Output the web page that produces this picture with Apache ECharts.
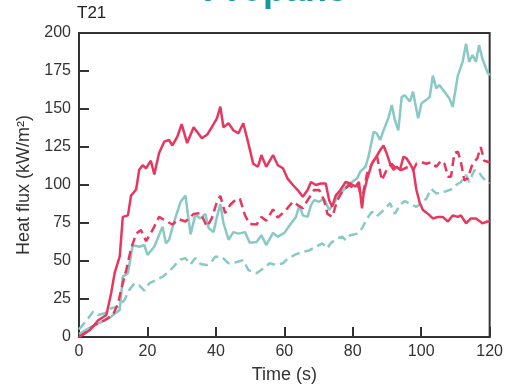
<!DOCTYPE html>
<html>
<head>
<meta charset="utf-8">
<script src="https://cdn.jsdelivr.net/npm/echarts@6/dist/echarts.min.js"></script>
<style>
  html, body { margin: 0; padding: 0; background: #fff; }
  #main { width: 506px; height: 389px; }
</style>
</head>
<body>
<div id="main"></div>
<script>
var xTicks = [0, 20, 40, 60, 80, 100, 120];
var yTicks = [0, 25, 50, 75, 100, 125, 150, 175, 200];

// red solid
var redSolidT = [0, 1.5, 3.2, 5.6, 8, 9.4, 10.4, 11.9, 12.8, 14.3, 15.2, 16.7, 17.6, 18.6, 19.6, 21, 22, 23.4, 24.9, 26.3, 27.3, 28.7, 30, 31.6, 33.5, 35.9, 37.4, 38.8, 40.3, 41.3, 42.2, 43.7, 45.1, 46.6, 48, 49.5, 50.9, 52.3, 53.3, 54.7, 56.7, 58.1, 59.6, 61, 62.5, 63.9, 65.4, 66.8, 67.8, 69.2, 70.6, 72.1, 73.1, 74, 75, 76.4, 77.9, 79.3, 80.8, 81.8, 82.7, 83.2, 84.2, 85.6, 87, 88, 89, 89.9, 90.9, 91.9, 92.8, 93.8, 94.8, 95.7, 96.7, 97.7, 98.6, 99.6, 100.5, 102, 103.4, 104.9, 106.3, 107.8, 109.2, 110.7, 111.6, 113.1, 114.5, 116, 117.9, 119.3, 120];
var redSolidQ = [0, 2, 4.6, 11, 14.5, 29, 42, 53, 79, 80, 93, 97, 110, 113, 111, 116, 107, 121, 128.5, 129.6, 126, 131.6, 140, 127.6, 138, 130.7, 133, 138, 143.8, 151.5, 138, 140.6, 136, 134, 140.6, 127.4, 114, 112, 119.7, 112, 119.7, 113, 111, 104, 100, 96.7, 92.3, 96.7, 102, 100, 101, 101, 90, 85.7, 93, 96.7, 102, 101, 99, 102, 84.7, 94.7, 104, 114, 119, 123, 126, 120.8, 114, 110, 112, 110, 118.6, 117.6, 114, 110, 96.7, 88, 83.6, 81, 78, 79, 79, 76, 80, 79, 80, 74.8, 78, 78, 74.8, 76, 76];

// red dashed
var redDashT = [0, 1.7, 4.6, 7.5, 9.9, 11.4, 12.3, 13.8, 15.2, 16.7, 18.1, 19.6, 21.5, 23.4, 24.9, 27.3, 29.2, 31.1, 33.5, 35.5, 37.4, 38.8, 40.3, 41.3, 42.7, 44.2, 45.6, 47, 48.5, 49.9, 51.9, 53.3, 54.7, 56.7, 58.1, 60.5, 62.5, 63.9, 65.4, 66.8, 67.8, 68.7, 70.2, 71.6, 72.6, 74, 75.5, 76.9, 78.9, 80.3, 81.8, 82.7, 83.2, 84.2, 85.6, 87, 88, 88.5, 89.9, 91.4, 92.8, 94.3, 96.2, 97.7, 98.6, 100.1, 101.5, 102.9, 104.4, 105.8, 106.8, 107.8, 108.7, 109.7, 110.7, 111.6, 112.6, 113.6, 115, 116.4, 117.4, 118.4, 120];
var redDashQ = [0, 2.6, 7.9, 11, 14.5, 22, 31, 44, 58, 68, 70.4, 63, 70.4, 79, 77, 74, 77.5, 76, 81, 81.5, 72.6, 78, 89, 92.8, 81.5, 87, 90, 91, 80, 74.3, 74, 79, 76.5, 84, 78.5, 83.6, 89, 86.8, 84.7, 90, 93.4, 96.7, 96.7, 90, 81, 79, 90, 95.6, 100, 97.8, 99, 88, 96.7, 107.7, 114, 119.7, 108.8, 103, 110, 114, 110, 110, 112, 110, 114, 115, 114, 115, 112, 116, 114, 105.5, 105.5, 121, 122, 115, 103, 104.4, 114, 117.6, 125, 116, 115];

// teal solid
var tealSolidT = [0, 3.7, 6.6, 9.4, 11.9, 12.8, 14.3, 15.7, 17.6, 19.1, 20, 22, 24.4, 25.4, 26.3, 27.8, 29.7, 31.1, 32.6, 34, 35.5, 36.9, 37.9, 39.3, 40.3, 41.3, 42.2, 43.7, 45.1, 46.6, 48.5, 49.9, 51.9, 53.3, 54.7, 56.7, 58.1, 60, 62, 63.4, 64.4, 65.4, 66.8, 67.8, 68.7, 70.2, 71.6, 73.1, 74.5, 76, 77.4, 78.4, 79.8, 81.3, 82.2, 83.7, 84.6, 86.1, 87, 88, 89, 90.4, 91.4, 92.3, 93.3, 94.3, 95.2, 96.7, 97.6, 99.1, 100.1, 101.5, 102.5, 103.4, 104.4, 105.3, 106.8, 108.2, 109.2, 110.7, 112.1, 113.1, 114, 115, 116, 116.9, 117.9, 119.3, 120];
var tealSolidQ = [2, 6.8, 10, 13.4, 17.8, 39.7, 42, 60.5, 59.4, 60.5, 54, 59.4, 72.6, 61.6, 63.8, 75.9, 89, 93, 67.5, 80.5, 78, 81, 71.5, 69, 79, 87.5, 75, 64, 69, 68, 69, 62, 62.5, 67, 60.5, 68.5, 66, 68.5, 74.8, 79, 86.8, 80, 79, 86.8, 90, 89, 91, 83.6, 88, 94.5, 96.7, 100, 102, 104.4, 108.8, 112, 118.6, 135, 134, 129.6, 136, 144, 152.6, 142.8, 136, 158, 159, 154.8, 161.4, 143.9, 153.8, 156, 158, 172, 163.6, 165.8, 161.4, 157, 151.5, 172, 181, 193, 181, 185.5, 181, 192, 183, 174.5, 172];

// teal dashed
var tealDashT = [0, 2.7, 4.1, 5.6, 7.5, 9.4, 11.4, 13.3, 14.7, 16.2, 17.6, 19.1, 20.5, 22.5, 24.4, 26.3, 28.3, 29.7, 31.1, 32.6, 34, 35.5, 37.4, 38.4, 39.8, 41.7, 43.7, 45.6, 48, 49.5, 51.9, 53.8, 55.7, 57.6, 59.6, 60.5, 63, 65.4, 67.3, 69.2, 71.1, 72.6, 73.5, 75.5, 76.9, 77.9, 79.3, 81.3, 82.7, 84.2, 85.6, 87, 88.5, 90.9, 92.3, 93.8, 95.2, 96.7, 98.6, 100.1, 101.5, 102.9, 104.4, 105.8, 107.3, 108.7, 110.2, 111.6, 113.1, 114, 115.5, 116.4, 117.9, 119.3, 120];
var tealDashQ = [5, 12.3, 16.6, 14.5, 15.6, 18.9, 20, 24.3, 31, 35.3, 34, 30.5, 35.3, 37.5, 39.7, 43, 48, 51, 51.8, 47.8, 52, 48, 47.4, 48.5, 52.8, 52.8, 48.5, 49, 50.6, 44, 42, 45, 48.5, 47.4, 48.5, 50.6, 54, 56, 57, 59.4, 61.6, 58.4, 61.6, 65, 66, 63.8, 67, 68, 71.5, 78, 82.4, 79.5, 82.4, 88, 81, 86.8, 89.5, 87.5, 85.7, 87.9, 91, 97.5, 94.5, 94.5, 96, 97, 100, 102, 106.6, 102, 109.5, 110, 105, 102, 101];

var RED = '#e8375e';
var TEAL = '#88c9c6';
var FONT = 'Liberation Sans';

function pairs(t, q) {
  return t.map(function (x, i) { return [x, q[i]]; });
}

var myChart = echarts.init(document.getElementById('main'));

var option = {
  animation: false,
  backgroundColor: '#fff',
  grid: {
    left: 79, right: 12, top: 33, bottom: 52,
    show: true, borderColor: '#333', borderWidth: 2, backgroundColor: 'transparent'
  },
  graphic: [
    {
      type: 'text', x: 275, y: 9,
      style: { text: 'Propane', fill: '#17999a', font: 'bold 36px "Liberation Sans"', align: 'center', verticalAlign: 'bottom' }
    },
    {
      type: 'text', x: 77, y: 5,
      style: { text: 'T21', fill: '#222', font: '17px "Liberation Sans"' }
    }
  ],
  xAxis: {
    type: 'value', min: 0, max: 120, interval: 20,
    name: 'Time (s)', nameLocation: 'middle', nameGap: 29,
    nameTextStyle: { fontSize: 18, color: '#333', fontFamily: FONT },
    axisLine: { lineStyle: { color: '#333', width: 2 } },
    axisTick: { inside: true, length: 10, lineStyle: { color: '#333', width: 2 } },
    axisLabel: {
      margin: 7, fontSize: 16, color: '#333', fontFamily: FONT,
      formatter: function (v) { return xTicks.indexOf(v) >= 0 ? String(v) : ''; }
    },
    splitLine: { show: false }
  },
  yAxis: {
    type: 'value', min: 0, max: 200, interval: 25,
    name: 'Heat flux (kW/m²)', nameLocation: 'middle', nameGap: 44,
    nameTextStyle: { fontSize: 18, color: '#333', fontFamily: FONT },
    axisLine: { show: true, lineStyle: { color: '#333', width: 2 } },
    axisTick: { show: true, inside: true, length: 10, lineStyle: { color: '#333', width: 2 } },
    axisLabel: {
      margin: 8, fontSize: 16, color: '#333', fontFamily: FONT,
      formatter: function (v) { return yTicks.indexOf(v) >= 0 ? String(v) : ''; }
    },
    splitLine: { show: false }
  },
  series: [
    {
      type: 'line', data: pairs(tealDashT, tealDashQ), showSymbol: false,
      lineStyle: { color: TEAL, width: 2.5, type: [9, 5] }, z: 2
    },
    {
      type: 'line', data: pairs(tealSolidT, tealSolidQ), showSymbol: false,
      lineStyle: { color: TEAL, width: 2.5 }, z: 3
    },
    {
      type: 'line', data: pairs(redDashT, redDashQ), showSymbol: false,
      lineStyle: { color: RED, width: 2.5, type: [9, 5] }, z: 4
    },
    {
      type: 'line', data: pairs(redSolidT, redSolidQ), showSymbol: false,
      lineStyle: { color: RED, width: 2.5 }, z: 5
    }
  ]
};

myChart.setOption(option);
</script>
</body>
</html>
